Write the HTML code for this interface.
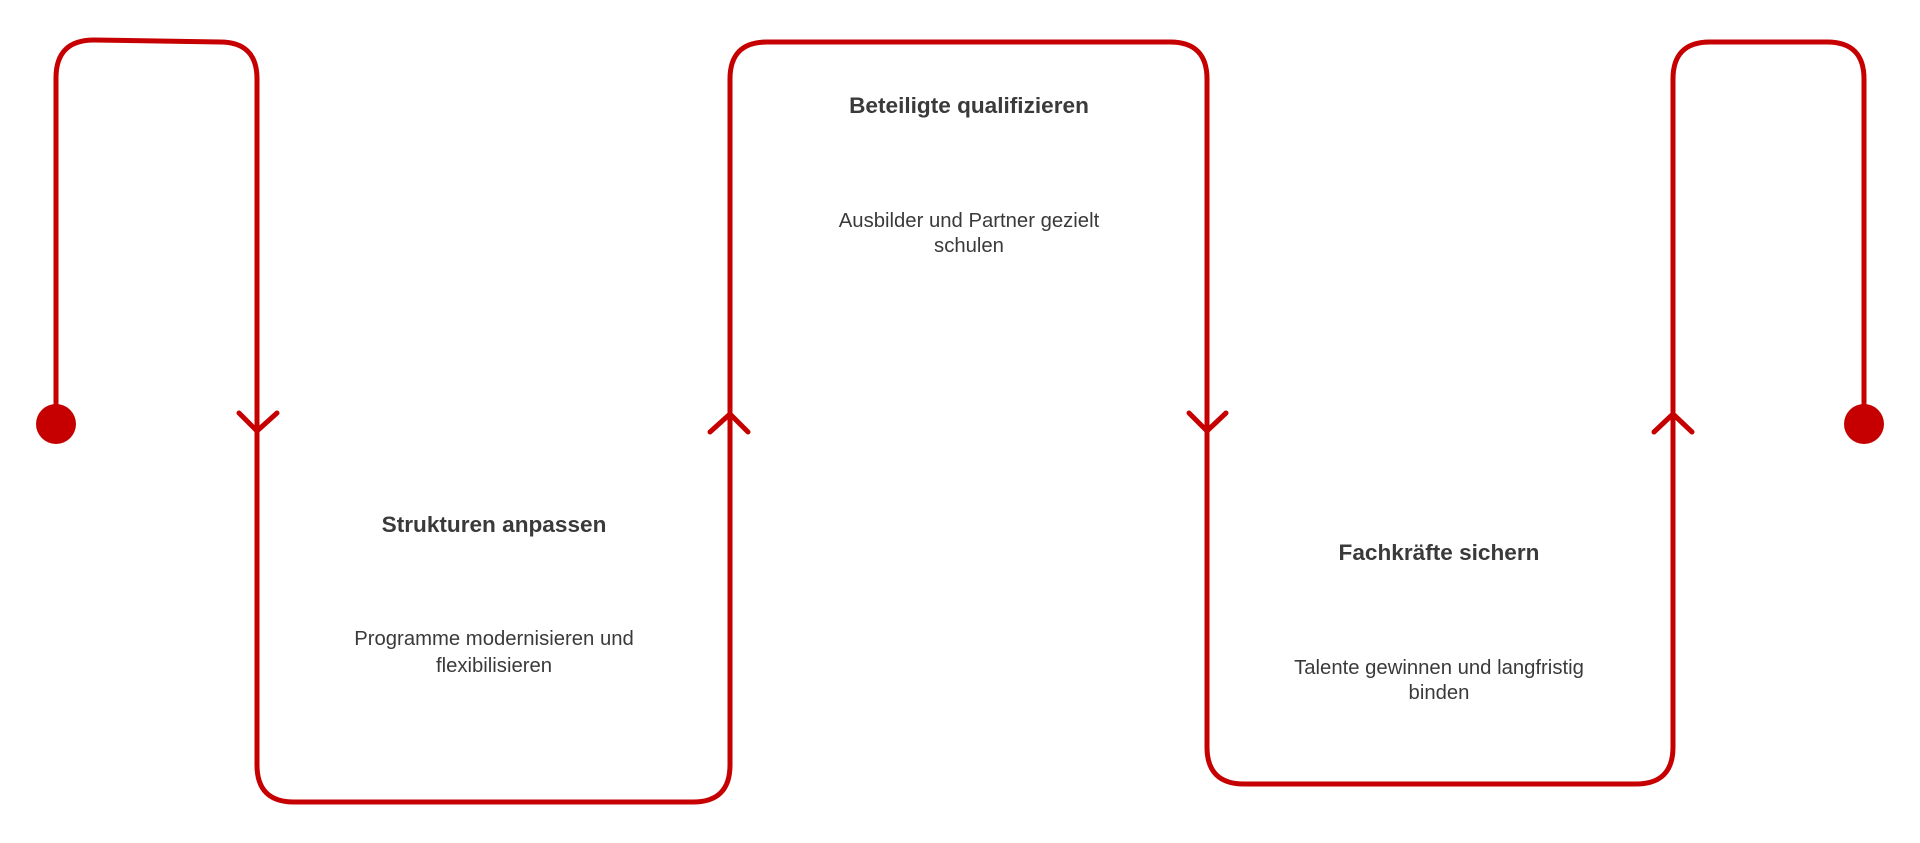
<!DOCTYPE html>
<html><head><meta charset="utf-8"><style>
html,body{margin:0;padding:0;background:#fff;}
svg{display:block}
text{font-family:"Liberation Sans",sans-serif;fill:#3a3a3a;text-anchor:middle}
.t{font-weight:bold;font-size:22.6px}
.d{font-size:20.3px}
</style></head><body>
<svg width="1920" height="843" viewBox="0 0 1920 843">
<g fill="none" stroke="#c60000" stroke-width="5" stroke-linejoin="round" stroke-linecap="round">
<path d="M56 424 V78 Q56 40 94 40 L220 42 Q257 42 257 79 V765 Q257 802 294 802 H693 Q730 802 730 765 V79 Q730 42 767 42 H1170 Q1207 42 1207 79 V747 Q1207 784 1244 784 H1636 Q1673 784 1673 747 V79 Q1673 42 1710 42 H1827 Q1864 42 1864 79 V424"/>
<path d="M239 413 L257 431 L277 413"/>
<path d="M710 432 L730 414 L748 432"/>
<path d="M1189 413 L1207 431 L1226 413"/>
<path d="M1654 432 L1673 414 L1692 432"/>
</g>
<circle cx="56" cy="424" r="20" fill="#c60000"/>
<circle cx="1864" cy="424" r="20" fill="#c60000"/>
<text class="t" x="969" y="113">Beteiligte qualifizieren</text>
<text class="d" x="969" y="227">Ausbilder und Partner gezielt</text>
<text class="d" x="969" y="252">schulen</text>
<text class="t" x="494" y="532">Strukturen anpassen</text>
<text class="d" x="494" y="645">Programme modernisieren und</text>
<text class="d" x="494" y="672">flexibilisieren</text>
<text class="t" x="1439" y="560">Fachkräfte sichern</text>
<text class="d" x="1439" y="674">Talente gewinnen und langfristig</text>
<text class="d" x="1439" y="699">binden</text>
</svg>
</body></html>
